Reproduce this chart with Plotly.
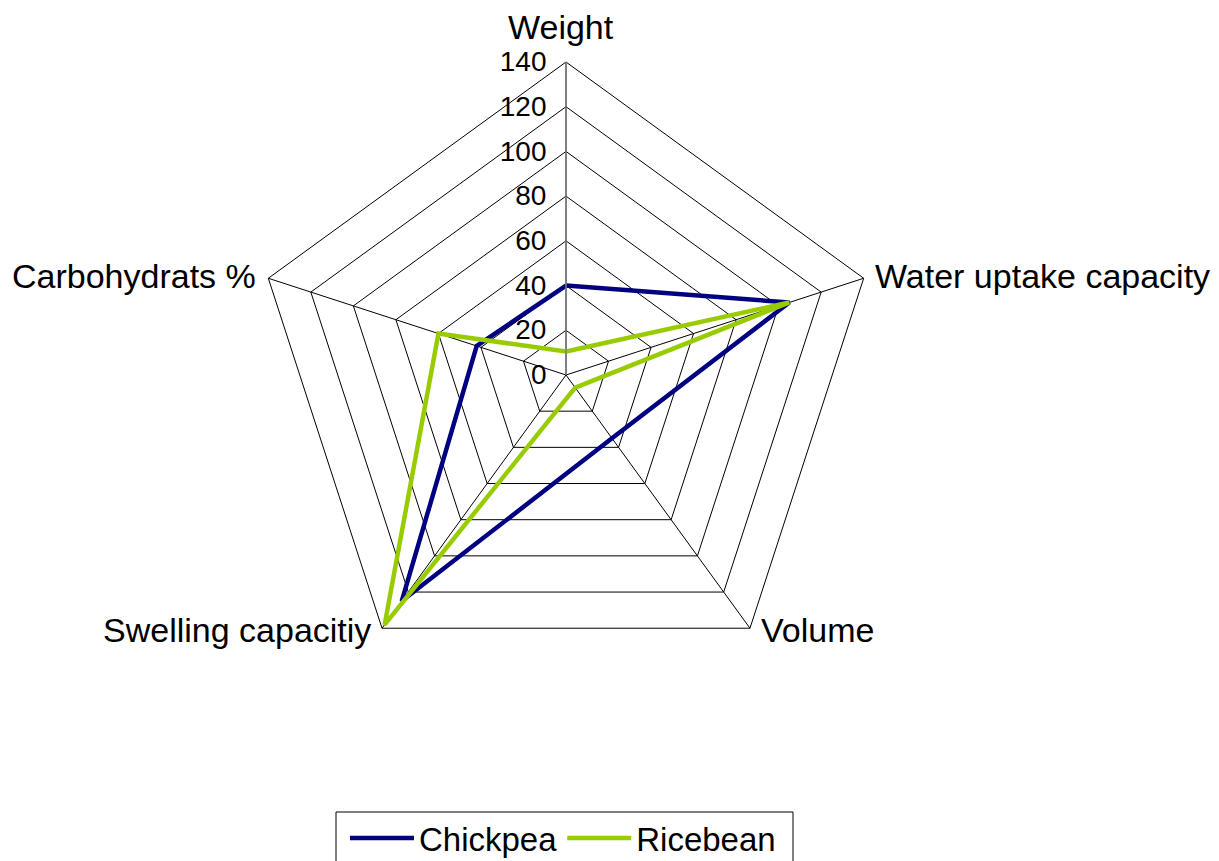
import math
import plotly.graph_objects as go

categories = ["Weight", "Water uptake capacity", "Volume", "Swelling capacitiy", "Carbohydrats %"]
chickpea = [40, 105, 35, 125, 42]
ricebean = [10.5, 105, 7, 138, 60]
series_names = ["Chickpea", "Ricebean"]
series_colors = ["#000080", "#99CC00"]
radial_ticks = [0, 20, 40, 60, 80, 100, 120, 140]

FONT = "Liberation Sans, Arial, sans-serif"

fig = go.Figure()
for name, vals, col in zip(series_names, [chickpea, ricebean], series_colors):
    fig.add_trace(go.Scatterpolar(
        r=vals + vals[:1],
        theta=categories + categories[:1],
        mode="lines",
        name=name,
        line=dict(color=col, width=4.5),
    ))

W, H = 1219, 861
OX, OY = 7, 5          # page offset compensation
cx, cy, R = 565 - OX, 372 - OY, 313

def px(x):
    return x / W

def py(y):
    return 1 - y / H

annotations = []
n = len(categories)
for i, cat in enumerate(categories):
    ang = math.radians(90 - 360 * i / n)
    vx = cx + R * math.cos(ang)
    vy = cy - R * math.sin(ang)
    if i == 0:
        x, y, xa = vx - 5, vy - 35, "center"
    elif i == 1:
        x, y, xa = vx + 9, vy - 2, "left"
    elif i == 4:
        x, y, xa = vx - 10, vy - 2, "right"
    elif i == 2:
        x, y, xa = vx + 9, vy + 2, "left"
    else:
        x, y, xa = vx - 9, vy + 2, "right"
    annotations.append(dict(
        text=cat, x=px(x), y=py(y), xref="paper", yref="paper",
        xanchor=xa, yanchor="middle", showarrow=False,
        font=dict(size=34, family=FONT, color="black"),
    ))

fig.update_layout(
    width=W, height=H,
    margin=dict(l=0, r=0, t=0, b=0),
    paper_bgcolor="white",
    plot_bgcolor="white",
    font=dict(family=FONT, color="black", size=28),
    annotations=annotations,
    shapes=[dict(
        type="rect", xref="paper", yref="paper",
        x0=px(335 - OX), x1=px(792 - OX), y0=py(809 - OY), y1=py(875 - OY),
        line=dict(color="black", width=1), fillcolor="rgba(0,0,0,0)",
    )],
    polar=dict(
        domain=dict(x=[px(cx - R), px(cx + R)], y=[py(cy + R), py(cy - R)]),
        bgcolor="white",
        gridshape="linear",
        radialaxis=dict(
            range=[0, 140],
            tickvals=radial_ticks,
            angle=90,
            side="counterclockwise",
            tickangle=90,
            showline=True,
            linecolor="#808080",
            linewidth=1.5,
            gridcolor="black",
            gridwidth=1,
            ticks="outside",
            ticklen=9,
            tickcolor="rgba(0,0,0,0)",
            tickfont=dict(size=28, family=FONT, color="black"),
        ),
        angularaxis=dict(
            direction="clockwise",
            rotation=90,
            linecolor="black",
            linewidth=1,
            gridcolor="black",
            gridwidth=1,
            ticks="",
            showticklabels=False,
        ),
    ),
    showlegend=True,
    legend=dict(
        orientation="h",
        x=px(562 - OX), xanchor="center",
        y=py(807 - OY), yanchor="top",
        borderwidth=0,
        bgcolor="rgba(0,0,0,0)",
        font=dict(size=33, family=FONT, color="black"),
        itemwidth=64,
    ),
)

fig.write_html("out.html")
